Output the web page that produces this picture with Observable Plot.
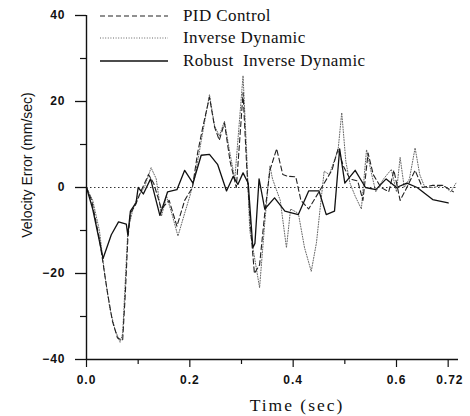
<!DOCTYPE html>
<html>
<head>
<meta charset="utf-8">
<script src="https://cdn.jsdelivr.net/npm/d3@7"></script>
<script src="https://cdn.jsdelivr.net/npm/@observablehq/plot@0.6"></script>
<style>
  html, body { margin: 0; padding: 0; background: #fff; }
  #wrap { position: relative; width: 470px; height: 416px; }
  #wrap svg text { letter-spacing: 1px; }
  .legend-row { position: absolute; left: 100px; height: 20px; display: flex; align-items: center;
    font-family: "Liberation Serif", serif; font-size: 17px; color: #111; letter-spacing: 0.4px; white-space: nowrap; }
  .legend-row svg { width: 68px; height: 6px; margin-right: 15px; }
  #ylab { position: absolute; left: 27px; top: 165px; transform: translate(-50%, -50%) rotate(-90deg);
    font-family: "Liberation Sans", Arial, sans-serif; font-size: 14px; color: #111; white-space: nowrap; }
  #xlab { position: absolute; left: 297px; top: 405px; transform: translate(-50%, -50%);
    font-family: "Liberation Serif", serif; font-size: 17.5px; letter-spacing: 2px; color: #111; white-space: nowrap; }
</style>
</head>
<body>
<div id="wrap"></div>
<script>
// ---- data ----
const seriesNames = ["PID Control", "Inverse Dynamic", "Robust  Inverse Dynamic"];

const pidT = [0,0.01,0.025,0.04,0.05,0.06,0.07,0.075,0.08,0.085,0.095,0.105,0.12,0.13,0.145,0.16,0.175,0.19,0.205,0.215,0.225,0.238,0.248,0.257,0.267,0.278,0.29,0.303,0.31,0.318,0.325,0.335,0.345,0.355,0.368,0.38,0.39,0.405,0.415,0.43,0.445,0.46,0.475,0.487,0.497,0.51,0.525,0.535,0.545,0.555,0.57,0.585,0.595,0.607,0.62,0.636,0.65,0.67,0.69,0.71];
const pidV = [0,-3,-12,-24,-31,-35,-35.5,-25,-12,-6,-4,-1,3,1,-5,-3,-9,-3,0,8,14,21,14,11,15,6,0,22,5,-10,-20,-18,-6,4,9,3,2.6,2.5,-3,-5,-2,1,4,9,5,2,1.5,-3,8,3,0,-1,4,-3,0,4,0,0.5,0.5,-1];

const invT = [0,0.012,0.025,0.035,0.045,0.055,0.065,0.07,0.075,0.08,0.09,0.1,0.112,0.125,0.135,0.145,0.155,0.165,0.177,0.19,0.2,0.209,0.222,0.238,0.248,0.257,0.267,0.277,0.287,0.303,0.31,0.316,0.322,0.335,0.345,0.355,0.36,0.375,0.387,0.395,0.41,0.422,0.435,0.445,0.46,0.47,0.487,0.494,0.502,0.51,0.52,0.532,0.542,0.552,0.56,0.575,0.59,0.6,0.607,0.615,0.625,0.636,0.645,0.655,0.67,0.69,0.705,0.715];
const invV = [0,-3,-10,-20,-28,-33,-36,-34,-22,-10,-5,-2,0,4.6,2,-6.7,-2,-6,-11.3,-6,-2,2,10.8,21.6,14.3,12,15.4,8.4,1.9,26,8,-10,-14,-23.3,-8.2,5,2,-3,-14,-5,-6,-14,-19.5,-12.9,3.8,3,8.8,17.4,6,1,-2,-5,8.8,3,-1,2,4.2,-1,7,0,2,9.2,3,0,0,0.5,-1,1];

const robT = [0,0.012,0.032,0.048,0.062,0.077,0.08,0.085,0.096,0.1,0.11,0.124,0.142,0.157,0.175,0.19,0.206,0.222,0.238,0.254,0.271,0.284,0.293,0.303,0.313,0.322,0.326,0.334,0.345,0.364,0.384,0.41,0.43,0.45,0.464,0.48,0.49,0.5,0.52,0.54,0.56,0.58,0.6,0.62,0.64,0.67,0.7];
const robV = [0,-5,-16.5,-11,-8,-8.5,-11,-5.5,-3.5,0,-1.5,2,-6.5,-1,-0.5,4,1,7.5,7.7,5.3,-0.8,2.6,0.7,3.4,1,-14,-13,2,-5,-2.4,-5.5,-6.3,-0.8,-0.8,-6.3,-5.5,9,1,4,0,-0.5,2,0,1,0,-2.8,-3.6];

const yMajor = [-40, -20, 0, 20, 40];
const yMinor = [-30, -10, 10, 30];
const xMajor = [0, 0.2, 0.4, 0.6, 0.7];
const xMinor = [0.1, 0.3, 0.5];
const xLabelVals = [0, 0.2, 0.4, 0.6];
const xLabelText = ["0.0", "0.2", "0.4", "0.6"];
const xEndVal = 0.72;
const xEndText = "0.72";

const rows = (T, V) => T.map((t, i) => ({t, v: V[i]}));
const pid = rows(pidT, pidV);
const inv = rows(invT, invV);
const rob = rows(robT, robV);

const blank = () => "";

const chart = Plot.plot({
  width: 470,
  height: 416,
  marginLeft: 86,
  marginRight: 12,
  marginTop: 15,
  marginBottom: 57,
  style: {fontFamily: "'Liberation Sans', Arial, sans-serif", fontSize: "12px", color: "#111", background: "#fff"},
  x: {domain: [0, 0.72], axis: null},
  y: {domain: [-40, 40], axis: null},
  marks: [
    Plot.ruleY([0], {stroke: "#333", strokeDasharray: "1.5,2.5", strokeWidth: 1}),
    Plot.line(inv, {x: "t", y: "v", stroke: "#666", strokeWidth: 1, strokeDasharray: "1,1.6"}),
    Plot.line(pid, {x: "t", y: "v", stroke: "#222", strokeWidth: 1.1, strokeDasharray: "5,3"}),
    Plot.line(rob, {x: "t", y: "v", stroke: "#111", strokeWidth: 1.3}),
    Plot.ruleX([0], {y1: -40, y2: 40, stroke: "#111", strokeWidth: 1.4}),
    Plot.ruleY([-40], {stroke: "#111", strokeWidth: 1.4}),
    Plot.axisY({ticks: yMajor, tickSize: 11, tickPadding: 10, label: null, fontWeight: "bold", fontSize: 12, strokeWidth: 1.3}),
    Plot.axisY({ticks: yMinor, tickSize: 6, tickFormat: blank, label: null, strokeWidth: 1.2}),
    Plot.axisX({ticks: xMajor, tickSize: 8, tickFormat: blank, label: null, strokeWidth: 1.2}),
    Plot.axisX({ticks: xMinor, tickSize: 5, tickFormat: blank, label: null, strokeWidth: 1.2}),
    Plot.text(xLabelVals, {x: d => d, text: (d, i) => xLabelText[i], frameAnchor: "bottom", dy: 24, fontWeight: "bold", fontSize: 12}),
    Plot.text([xEndVal], {x: d => d, text: () => xEndText, frameAnchor: "bottom", dy: 24, textAnchor: "end", dx: 5, fontWeight: "bold", fontSize: 12})
  ]
});

const wrap = document.getElementById("wrap");
wrap.appendChild(chart);

// legend (HTML overlay)
const legendStyles = [
  {dash: "5,3", stroke: "#222", w: 1.1, top: 6},
  {dash: "1,1.6", stroke: "#666", w: 1, top: 28},
  {dash: null, stroke: "#111", w: 1.3, top: 51}
];
seriesNames.forEach((name, i) => {
  const s = legendStyles[i];
  const row = document.createElement("div");
  row.className = "legend-row";
  row.style.top = s.top + "px";
  row.innerHTML = `<svg viewBox="0 0 68 6"><line x1="0" y1="3" x2="68" y2="3" stroke="${s.stroke}" stroke-width="${s.w}" ${s.dash ? `stroke-dasharray="${s.dash}"` : ""}/></svg><span>${name.replace(/  /g, "&nbsp; ")}</span>`;
  wrap.appendChild(row);
});

const ylab = document.createElement("div");
ylab.id = "ylab";
ylab.textContent = "Velocity Error (mm/sec)";
wrap.appendChild(ylab);

const xlab = document.createElement("div");
xlab.id = "xlab";
xlab.textContent = "Time (sec)";
wrap.appendChild(xlab);
</script>
</body>
</html>
